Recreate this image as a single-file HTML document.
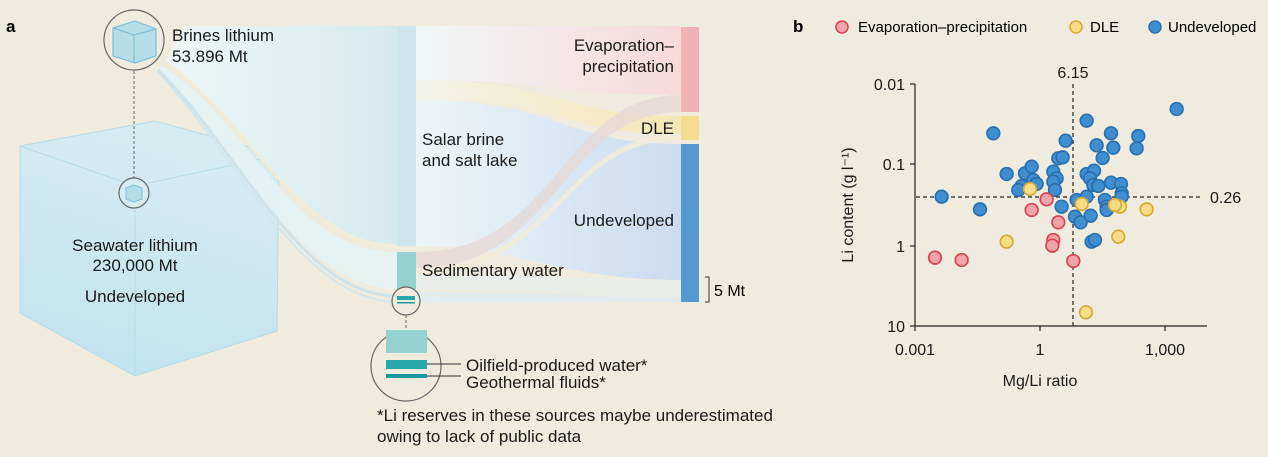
<!DOCTYPE html>
<html><head><meta charset="utf-8"><style>
html,body{margin:0;padding:0;background:#efebdf;}
svg{display:block;font-family:"Liberation Sans",sans-serif;}
</style></head><body>
<svg width="1268" height="457" viewBox="0 0 1268 457" xmlns="http://www.w3.org/2000/svg">
<defs>
<linearGradient id="gb" x1="0" x2="1" y1="0" y2="0"><stop offset="0" stop-color="#eef6f6"/><stop offset="1" stop-color="#d6eaee"/></linearGradient>
<linearGradient id="ge" x1="0" x2="1"><stop offset="0" stop-color="#f1f7f8"/><stop offset="1" stop-color="#f7d9da"/></linearGradient>
<linearGradient id="gu" x1="0" x2="1"><stop offset="0" stop-color="#eef5f7"/><stop offset="1" stop-color="#cbdcef"/></linearGradient>
<linearGradient id="gd" x1="0" x2="1"><stop offset="0" stop-color="#f3f3ea"/><stop offset="1" stop-color="#f4e6b6"/></linearGradient>
<linearGradient id="gc" x1="0" x2="0.3" y1="1" y2="0"><stop offset="0" stop-color="#bfe2ee"/><stop offset="1" stop-color="#d6ecf1"/></linearGradient>
</defs>
<rect width="1268" height="457" fill="#efebdf"/>
<text x="6" y="32" font-size="17" font-weight="bold">a</text>

<!-- big cube -->
<polygon points="20,146 155,121 279,155 277,331 135,376 20,313" fill="url(#gc)" stroke="#b5dce8" stroke-width="1"/>
<polyline points="20,146 135,186 279,155" fill="none" stroke="#b5dce8"/>
<line x1="135" y1="186" x2="135" y2="376" stroke="#b5dce8"/>

<!-- flows from brines -->
<path d="M185,26 L397,26 L397,246 C300,246 250,120 165,62 Z" fill="url(#gb)"/>
<path d="M165,62 C250,120 300,246 397,246" fill="none" stroke="#f3ecd8" stroke-width="3"/>
<path d="M162,66 C250,120 290,252 397,252 L397,289 C300,289 240,150 158,70 Z" fill="#e6f2f3" opacity="0.95"/>
<path d="M158,70 C240,150 300,296 397,296" fill="none" stroke="#cfe4ea" stroke-width="3"/>
<path d="M158,72 C240,160 300,300 397,302" fill="none" stroke="#d3e6ec" stroke-width="2"/>

<!-- source bars -->
<rect x="397" y="26" width="19" height="220" fill="#cde6ec"/>
<rect x="397" y="252" width="19" height="37" fill="#96d1d2"/>

<!-- flows to targets -->
<path d="M416,26 L681,26 L681,95 C560,95 540,80 416,80 Z" fill="url(#ge)"/>
<path d="M416,80 C560,80 560,116 681,116 L681,134 C560,134 560,100 416,100 Z" fill="url(#gd)"/>
<path d="M416,100 C560,100 560,144 681,144 L681,280 C560,280 520,246 416,246 Z" fill="url(#gu)"/>
<path d="M416,252 C560,252 560,95 681,95 L681,112 C560,112 560,268 416,268 Z" fill="#e6d8d6" opacity="0.75"/>
<path d="M416,268 C560,268 560,134 681,134 L681,140 C560,140 560,274 416,274 Z" fill="#f2ecd8" opacity="0.85"/>
<path d="M416,274 C560,274 560,280 681,280 L681,297 C560,297 560,289 416,289 Z" fill="#eaeee8"/>
<path d="M416,292 C560,292 560,297 681,297 L681,302 C560,302 560,303 416,303 Z" fill="#e2ecef"/>

<!-- target bars -->
<rect x="681" y="27" width="18" height="85" fill="#f0b3b5"/>
<rect x="681" y="116" width="18" height="24" fill="#f5dd8f"/>
<rect x="681" y="144" width="18" height="158" fill="#5499d2"/>
<polyline points="705,277 709,277 709,302 705,302" fill="none" stroke="#333" stroke-width="1"/>
<text x="714" y="296" font-size="16">5 Mt</text>

<!-- labels -->
<g font-size="17" fill="#1a1a1a">
<text x="674" y="51" text-anchor="end">Evaporation–</text>
<text x="674" y="72" text-anchor="end">precipitation</text>
<text x="674" y="134" text-anchor="end">DLE</text>
<text x="674" y="226" text-anchor="end">Undeveloped</text>
<text x="422" y="145">Salar brine</text>
<text x="422" y="166">and salt lake</text>
<text x="422" y="276">Sedimentary water</text>
<text x="172" y="41">Brines lithium</text>
<text x="172" y="62">53.896 Mt</text>
<text x="135" y="251" text-anchor="middle">Seawater lithium</text>
<text x="135" y="271" text-anchor="middle">230,000 Mt</text>
<text x="135" y="302" text-anchor="middle">Undeveloped</text>
<text x="466" y="371">Oilfield-produced water*</text>
<text x="466" y="388">Geothermal fluids*</text>
<text x="377" y="421">*Li reserves in these sources maybe underestimated</text>
<text x="377" y="442">owing to lack of public data</text>
</g>

<!-- circles -->
<circle cx="134" cy="40" r="30" fill="none" stroke="#666" stroke-width="1.2"/>
<polygon points="113,28 135,21 156,29 156,56 135,63 113,56" fill="#b7dde9" stroke="#7cc1d9" stroke-width="1.2"/>
<polyline points="113,28 134,35 156,29" fill="none" stroke="#7cc1d9" stroke-width="1.2"/>
<line x1="134" y1="35" x2="134" y2="63" stroke="#7cc1d9" stroke-width="1.2"/>
<line x1="134" y1="71" x2="134" y2="178" stroke="#666" stroke-dasharray="3,2"/>
<circle cx="134" cy="193" r="15" fill="#d5ecf1" stroke="#666" stroke-width="1.2"/>
<polygon points="126,188 134,185 142,188 142,199 134,202 126,199" fill="#b7dde9" stroke="#7cc1d9"/>
<circle cx="406" cy="301" r="14" fill="#efebdf" stroke="#666" stroke-width="1.2"/>
<rect x="397" y="296" width="18" height="4" fill="#2aa7ab"/>
<rect x="397" y="302" width="18" height="1.5" fill="#1a9aa0"/>
<line x1="406" y1="315" x2="406" y2="330" stroke="#666" stroke-dasharray="3,2"/>
<circle cx="406" cy="366" r="35" fill="none" stroke="#666" stroke-width="1.2"/>
<rect x="386" y="330" width="41" height="23" fill="#96d1d2"/>
<rect x="386" y="360" width="41" height="9" fill="#2aa7ab"/>
<rect x="386" y="374" width="41" height="4" fill="#1a9aa0"/>
<line x1="427" y1="364" x2="461" y2="364" stroke="#333"/>
<line x1="427" y1="376" x2="461" y2="376" stroke="#333"/>

<!-- panel b -->
<text x="793" y="32" font-size="17" font-weight="bold">b</text>
<g font-size="15">
<circle cx="842" cy="27" r="6" fill="#f0a3a8" stroke="#d8414f" stroke-width="1.5"/>
<text x="858" y="32">Evaporation–precipitation</text>
<circle cx="1076" cy="27" r="6" fill="#f7dd86" stroke="#d8a933" stroke-width="1.5"/>
<text x="1090" y="32">DLE</text>
<circle cx="1155" cy="27" r="6" fill="#3f8fd0" stroke="#2a6fae" stroke-width="1.5"/>
<text x="1168" y="32">Undeveloped</text>
</g>
<g stroke="#222" stroke-width="1.2">
<line x1="915" y1="84" x2="915" y2="326"/>
<line x1="915" y1="326" x2="1207" y2="326"/>
<line x1="910" y1="84" x2="915" y2="84"/><line x1="910" y1="164" x2="915" y2="164"/>
<line x1="910" y1="246" x2="915" y2="246"/><line x1="910" y1="326" x2="915" y2="326"/>
<line x1="915" y1="326" x2="915" y2="331"/><line x1="1040" y1="326" x2="1040" y2="331"/><line x1="1165" y1="326" x2="1165" y2="331"/>
</g>
<g stroke="#222" stroke-width="1.2" stroke-dasharray="4,3">
<line x1="1073" y1="84" x2="1073" y2="326"/>
<line x1="916" y1="197" x2="1202" y2="197"/>
</g>
<g font-size="16" fill="#1a1a1a">
<text x="1073" y="78" text-anchor="middle">6.15</text>
<text x="1210" y="203">0.26</text>
<text x="905" y="90" text-anchor="end">0.01</text>
<text x="905" y="170" text-anchor="end">0.1</text>
<text x="905" y="252" text-anchor="end">1</text>
<text x="905" y="332" text-anchor="end">10</text>
<text x="915" y="355" text-anchor="middle">0.001</text>
<text x="1040" y="355" text-anchor="middle">1</text>
<text x="1165" y="355" text-anchor="middle">1,000</text>
<text x="1040" y="386" text-anchor="middle">Mg/Li ratio</text>
<text transform="translate(853,205) rotate(-90)" text-anchor="middle">Li content (g l⁻¹)</text>
</g>
<g transform="translate(820,60) scale(0.3333)" stroke-width="5">
<g fill="#3f8fd0" stroke="#2a6fae">
<circle cx="1070" cy="147" r="19"/><circle cx="800" cy="182" r="19"/><circle cx="520" cy="220" r="19"/><circle cx="873" cy="220" r="19"/><circle cx="955" cy="228" r="19"/><circle cx="950" cy="265" r="19"/><circle cx="737" cy="242" r="19"/><circle cx="830" cy="256" r="19"/><circle cx="880" cy="263" r="19"/><circle cx="848" cy="294" r="19"/><circle cx="715" cy="295" r="19"/><circle cx="728" cy="292" r="19"/><circle cx="560" cy="342" r="19"/><circle cx="615" cy="340" r="19"/><circle cx="635" cy="320" r="19"/><circle cx="700" cy="335" r="19"/><circle cx="800" cy="342" r="19"/><circle cx="822" cy="332" r="19"/><circle cx="810" cy="355" r="19"/><circle cx="710" cy="355" r="19"/><circle cx="640" cy="360" r="19"/><circle cx="650" cy="372" r="19"/><circle cx="700" cy="365" r="19"/><circle cx="605" cy="378" r="19"/><circle cx="595" cy="390" r="19"/><circle cx="705" cy="390" r="19"/><circle cx="873" cy="368" r="19"/><circle cx="903" cy="372" r="19"/><circle cx="905" cy="400" r="19"/><circle cx="905" cy="410" r="19"/><circle cx="820" cy="375" r="19"/><circle cx="835" cy="378" r="19"/><circle cx="365" cy="410" r="19"/><circle cx="480" cy="448" r="19"/><circle cx="855" cy="420" r="19"/><circle cx="860" cy="440" r="19"/><circle cx="860" cy="450" r="19"/><circle cx="770" cy="420" r="19"/><circle cx="800" cy="410" r="19"/><circle cx="725" cy="440" r="19"/><circle cx="765" cy="470" r="19"/><circle cx="782" cy="487" r="19"/><circle cx="812" cy="467" r="19"/><circle cx="815" cy="545" r="19"/><circle cx="825" cy="540" r="19"/>
</g>
<g fill="#f0a3a8" stroke="#d8414f">
<circle cx="345" cy="593" r="19"/><circle cx="425" cy="600" r="19"/><circle cx="635" cy="450" r="19"/><circle cx="680" cy="418" r="19"/><circle cx="715" cy="487" r="19"/><circle cx="700" cy="540" r="19"/><circle cx="697" cy="557" r="19"/><circle cx="760" cy="603" r="19"/>
</g>
<g fill="#f7dd86" stroke="#d8a933">
<circle cx="630" cy="387" r="19"/><circle cx="785" cy="432" r="19"/><circle cx="900" cy="440" r="19"/><circle cx="885" cy="435" r="19"/><circle cx="980" cy="448" r="19"/><circle cx="560" cy="545" r="19"/><circle cx="895" cy="530" r="19"/><circle cx="798" cy="757" r="19"/>
</g>
</g>
</svg>
</body></html>
